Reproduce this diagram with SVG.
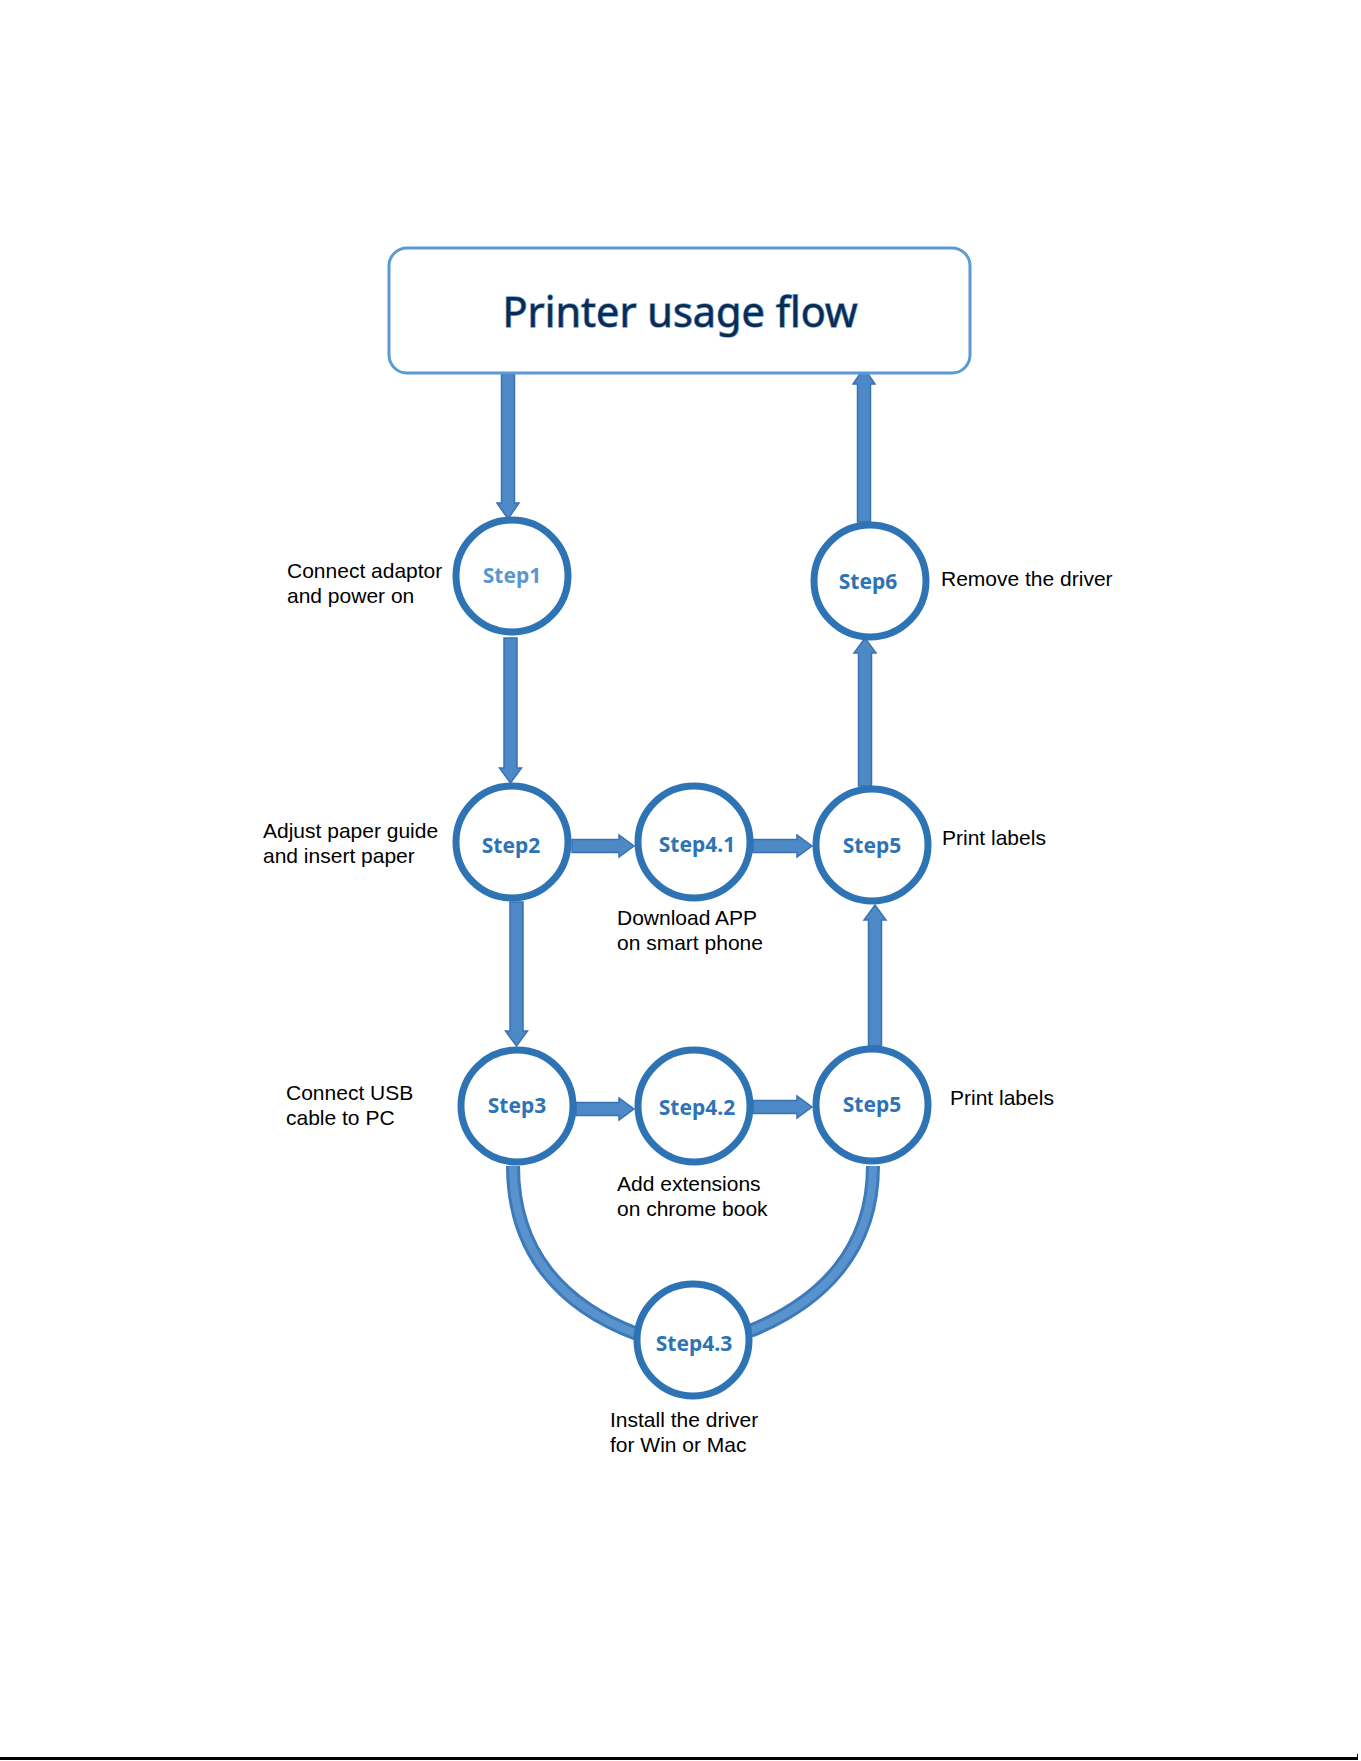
<svg xmlns="http://www.w3.org/2000/svg" width="1361" height="1761" viewBox="0 0 1361 1761">
<style>
.node circle{fill:#ffffff;stroke:#2e74b5;stroke-width:7}
.step{font-family:"Noto Sans","Open Sans",sans-serif;font-weight:bold;font-size:21px;fill:#2e74b5;text-anchor:middle}
.lbl{font-family:"Liberation Sans",Arial,sans-serif;font-size:21px;fill:#000000}
.arr{fill:#4d89c7;stroke:#3a72b0;stroke-width:1.5;stroke-linejoin:miter}
.band-o{fill:none;stroke:#3e79ba;stroke-width:14}
.band-i{fill:none;stroke:#5893ce;stroke-width:8}
</style>
<rect width="1361" height="1761" fill="#ffffff"/>

<g id="connectors">
  <!-- Box -> Step1 -->
  <polygon class="arr" points="501.5,374 514.5,374 514.5,503 519,503 508,519 497,503 501.5,503"/>
  <!-- Step1 -> Step2 -->
  <polygon class="arr" points="504,638 517,638 517,768 521.5,768 510.5,783 499.5,768 504,768"/>
  <!-- Step2 -> Step3 -->
  <polygon class="arr" points="510,902 523,902 523,1031 527.5,1031 516.5,1046 505.5,1031 510,1031"/>
  <!-- Step2 -> Step4.1 -->
  <polygon class="arr" points="572,839.5 619,839.5 619,835 634,846 619,857 619,852.5 572,852.5"/>
  <!-- Step4.1 -> Step5 -->
  <polygon class="arr" points="753,839.5 797,839.5 797,835 812,846 797,857 797,852.5 753,852.5"/>
  <!-- Step5 -> Step6 -->
  <polygon class="arr" points="858.5,786 871.5,786 871.5,653 876,653 865,638 854,653 858.5,653"/>
  <!-- Step6 -> Box -->
  <polygon class="arr" points="857.5,522 870.5,522 870.5,384 875,384 864,368 853,384 857.5,384"/>
  <!-- Step5 (lower) -> Step5 (upper) -->
  <polygon class="arr" points="868.5,1046 881.5,1046 881.5,920 886,920 875,905 864,920 868.5,920"/>
  <!-- Step3 -> Step4.2 -->
  <polygon class="arr" points="576,1102.5 619,1102.5 619,1098 634,1109 619,1120 619,1115.5 576,1115.5"/>
  <!-- Step4.2 -> Step5 (lower) -->
  <polygon class="arr" points="753,1100.5 797,1100.5 797,1096 812,1107 797,1118 797,1113.5 753,1113.5"/>
  <!-- Step3 -> Step4.3 -> Step5 arcs -->
  <path class="band-o" d="M513,1166 C513,1252 562,1306 637,1334"/>
  <path class="band-i" d="M513,1166 C513,1252 562,1306 637,1334"/>
  <path class="band-o" d="M873,1166 C873,1250 822,1302 750,1331"/>
  <path class="band-i" d="M873,1166 C873,1250 822,1302 750,1331"/>
</g>

<g id="title">
  <rect x="389" y="248" width="581" height="125" rx="18" ry="18" fill="#ffffff" stroke="#5b9bd5" stroke-width="3"/>
  <text x="680" y="327" text-anchor="middle" font-family="'Noto Sans','Open Sans',sans-serif" font-size="42" fill="#0d2b4e" stroke="#6aa3da" stroke-width="1.4" paint-order="stroke" textLength="355" lengthAdjust="spacingAndGlyphs">Printer usage flow</text>
</g>

<g id="step1" class="node">
  <circle cx="512" cy="576" r="56"/>
  <text class="step" x="512" y="583" style="fill:#5a96cf">Step1</text>
</g>
<g id="step2" class="node">
  <circle cx="512" cy="842" r="56"/>
  <text class="step" x="511" y="853">Step2</text>
</g>
<g id="step4-1" class="node">
  <circle cx="694" cy="842" r="56"/>
  <text class="step" x="697" y="852">Step4.1</text>
</g>
<g id="step5-upper" class="node">
  <circle cx="872" cy="845" r="56"/>
  <text class="step" x="872" y="853">Step5</text>
</g>
<g id="step6" class="node">
  <circle cx="870" cy="581" r="56"/>
  <text class="step" x="868" y="589">Step6</text>
</g>
<g id="step3" class="node">
  <circle cx="517" cy="1106" r="56"/>
  <text class="step" x="517" y="1113">Step3</text>
</g>
<g id="step4-2" class="node">
  <circle cx="694" cy="1106" r="56"/>
  <text class="step" x="697" y="1115">Step4.2</text>
</g>
<g id="step5-lower" class="node">
  <circle cx="872" cy="1105" r="56"/>
  <text class="step" x="872" y="1112">Step5</text>
</g>
<g id="step4-3" class="node">
  <circle cx="693" cy="1340" r="56"/>
  <text class="step" x="694" y="1351">Step4.3</text>
</g>

<g id="labels">
  <text class="lbl" x="287" y="578">Connect adaptor</text>
  <text class="lbl" x="287" y="602.5">and power on</text>
  <text class="lbl" x="263" y="838">Adjust paper guide</text>
  <text class="lbl" x="263" y="862.5">and insert paper</text>
  <text class="lbl" x="286" y="1100">Connect USB</text>
  <text class="lbl" x="286" y="1124.5">cable to PC</text>
  <text class="lbl" x="617" y="925">Download APP</text>
  <text class="lbl" x="617" y="949.5">on smart phone</text>
  <text class="lbl" x="617" y="1191">Add extensions</text>
  <text class="lbl" x="617" y="1215.5">on chrome book</text>
  <text class="lbl" x="610" y="1427">Install the driver</text>
  <text class="lbl" x="610" y="1451.5">for Win or Mac</text>
  <text class="lbl" x="941" y="586">Remove the driver</text>
  <text class="lbl" x="942" y="845">Print labels</text>
  <text class="lbl" x="950" y="1105">Print labels</text>
</g>

<g id="page-edge">
  <rect x="0" y="1757" width="1357" height="3" fill="#000000"/>
  <rect x="1357" y="1754" width="1" height="6" fill="#000000"/>
</g>
</svg>
